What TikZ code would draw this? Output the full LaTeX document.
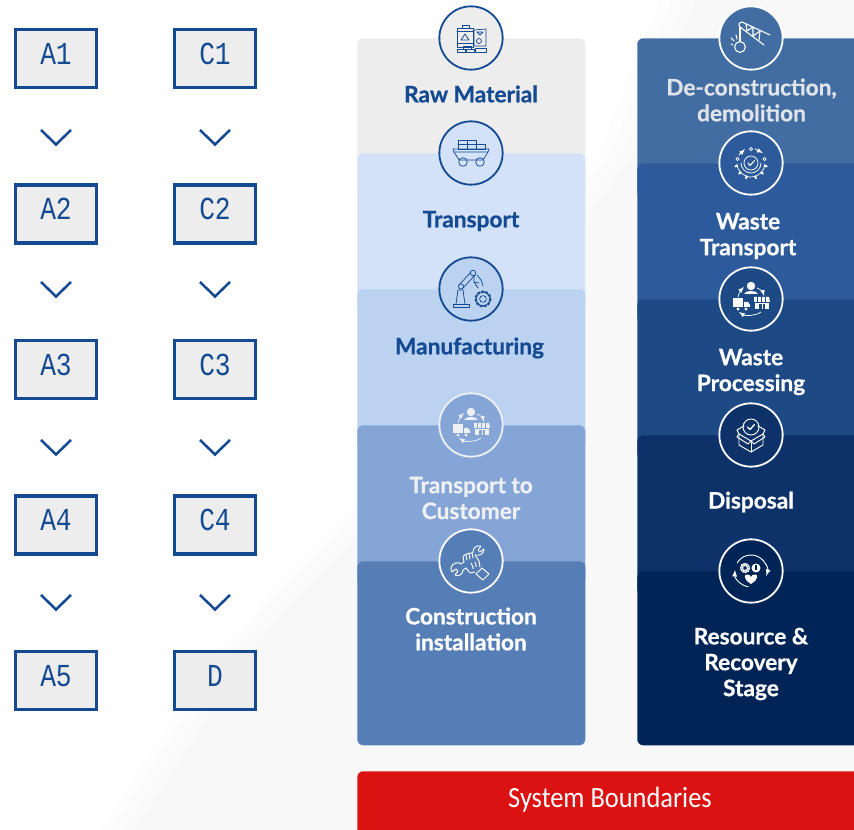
\documentclass[tikz,border=0pt]{standalone}
\usepackage{fontspec}
\setmainfont{Lato}[BoldFeatures={FakeBold=0.7}]
\newfontfamily\boxfont{Liberation Mono}[FakeStretch=0.82]
\newfontfamily\barfont{Carlito}[FakeStretch=0.9]
\definecolor{navy}{HTML}{134A92}
\definecolor{boxfill}{HTML}{EDEDED}
\definecolor{pa}{HTML}{EDEDED}
\definecolor{pb}{HTML}{D3E2F8}
\definecolor{pc}{HTML}{BBD2F0}
\definecolor{pd}{HTML}{84A5D5}
\definecolor{pe}{HTML}{567EB6}
\definecolor{qa}{HTML}{426DA3}
\definecolor{qb}{HTML}{2C5A9B}
\definecolor{qc}{HTML}{1D4A85}
\definecolor{qd}{HTML}{0D3269}
\definecolor{qe}{HTML}{002456}
\definecolor{softw}{HTML}{EEF0F4}
\definecolor{softd}{HTML}{E0E4EA}
\definecolor{redbar}{HTML}{DB1212}
\tikzset{
 x=0.75pt,y=-0.75pt,
 stagebox/.style={draw=navy,line width=2.4pt,fill=boxfill,minimum width=60.7pt,minimum height=43.5pt,inner sep=0pt,text=navy,font=\boxfont\fontsize{24}{24}\selectfont},
 chev/.style={draw=navy,line width=1.9pt,miter limit=2},
 panel/.style={rounded corners=4.5pt,inner sep=0pt,anchor=north west,minimum width=171pt},
 rpanel/.style={rounded corners=4.5pt,inner sep=0pt,anchor=north west,minimum width=190pt},
 lab/.style={font=\bfseries\fontsize{17}{19.4}\selectfont,align=center,inner sep=0pt},
 ring/.style={circle,draw=#1,line width=1.35pt,minimum size=47.5pt,inner sep=0pt},
 ico/.style={line width=0.55pt,line cap=round,line join=round},
}
\newcommand{\chevron}[2]{\draw[chev] ({#1-15},{#2}) -- ({#1},{#2+14.5}) -- ({#1+15},{#2});}
\newcommand{\iconraw}[1]{\begin{scope}[ico,draw=#1]
 \draw (-14,-10) rectangle (2,9); \draw (-14,-7)--(2,-7); \draw(-9,-10)--(-9,-13)--(-2,-13)--(-2,-10);
 \draw (-10,2)--(-6,-4)--(-2,2)--cycle; \draw (-14,5)--(2,5);
 \draw (3,-8)--(15,-9)--(15,8)--(3,8)--cycle; \draw (6,-6)--(12,-6)--(9,-3)--cycle; \draw (8,3) circle (2.5);
 \draw (-14,14) rectangle (-6,11); \draw (-8,11) rectangle (0,8.5); \draw(-5,14) rectangle (3,11); \draw(4,14) rectangle (15,10);
 \end{scope}}
\newcommand{\iconcart}[1]{\begin{scope}[ico,draw=#1]
 \draw (-18,-4)--(18,-4)--(17,-1)--(-17,-1)--cycle; \draw (-17,-1)--(-12,7)--(12,7)--(17,-1);
 \draw (-8,9) circle (4.3); \draw (9,9) circle (4.3);
 \draw (-13,-13) rectangle (-4,-4); \draw (-13,-9)--(5,-9); \draw (-4,-13) rectangle (5,-4); \draw (5,-9) rectangle (14,-4);
 \end{scope}}
\newcommand{\iconrobot}[1]{\begin{scope}[ico,draw=#1]
 \draw (-18,15) rectangle (-2,18); \draw (-15,15)--(-13,1)--(-8,1)--(-6,15);
 \draw (-10,-2.5) circle (2.6); \draw (-12,-4)--(0,-17); \draw (-8,-1)--(4,-14); \draw (2,-16) circle (2.8);
 \draw (3,-13)--(3,-7)--(7,-1); \draw (6,-14)--(10,-9)--(12,-3); \draw (3,-7)--(8,-6);
 \draw[line width=1.2pt,dash pattern=on 1.6pt off 1.6pt] (12,10) circle (7.6); \draw (12,10) circle (6.6); \draw (12,10) circle (3.4);
 \end{scope}}
\newcommand{\icontruck}[2]{\begin{scope}[ico,draw=#1]
 \fill[#1] (-18,-1) rectangle (-8,8); \fill[#1] (-7,3)--(-3,3)--(-1,6)--(-1,8)--(-7,8)--cycle;
 \fill[#1] (-13,10) circle (1.7); \fill[#1] (-5,10) circle (1.7);
 \fill[#1] (3,-2)--(18,-2)--(19,3)--(3,3)--cycle; \fill[#1] (4,4) rectangle (18,10);
 \fill[#2] (8,5) rectangle (14,10); \fill[#1] (10.6,5) rectangle (11.4,10);
 \foreach \u in {6.5,10.5,14.5} {\draw[#2,line width=0.4pt] (\u,-2)--(\u,3);}
 \fill[#1] (0,-13) circle (4.2); \fill[#1] (-7,-5) .. controls (-6,-9) and (6,-9) .. (7,-5) -- cycle;
 \draw[->,>=latex] (-13,-2) .. controls (-12,-6) and (-10,-9) .. (-7,-12);
 \draw[->,>=latex] (6,-11) .. controls (9,-10) and (12,-7) .. (13,-3);
 \draw[->,>=latex] (10,13) .. controls (5,17) and (-6,17) .. (-12,13);
 \end{scope}}
\newcommand{\iconhand}[1]{\begin{scope}[ico,line width=0.7pt,draw=#1]
 \draw (-15,2) .. controls (-20,3) and (-21,8) .. (-19,11) -- (-15,8) -- (-13,10) -- (-16,14) .. controls (-12,16) and (-8,13) .. (-8,9) -- (-5,7);
 \draw (-15,2) .. controls (-13,1) and (-11,2) .. (-10,3) -- (-7,1);
 \draw (4,-6) -- (5,-6) .. controls (10,-5) and (13,-8) .. (13,-12) -- (9,-9) -- (7,-11) -- (10,-15) .. controls (5,-16) and (2,-13) .. (2,-9) -- (1,-8);
 \draw (-7,1)--(-8,-4) .. controls (-7,-7) and (-2,-8) .. (1,-8);
 \draw (-5,-6)--(-4,-1); \draw (-2,-7)--(-1,-2); \draw (1,-8)--(2,-3);
 \draw (4,-6)--(8,0)--(9,6);
 \draw (-5,7)--(-1,12)--(4,11);
 \draw (0,2)--(2,6); \draw (4,1)--(5,4); \fill[#1] (2,7) circle (0.9); \fill[#1] (5,5) circle (0.9);
 \draw (5,13)--(11,7)--(18,13)--(12,19)--cycle;
 \end{scope}}
\newcommand{\iconcrane}[1]{\begin{scope}[ico,line width=0.8pt,draw=#1]
 \draw (-9,-16)--(19,-3); \draw (-11,-11)--(13,7); \draw (-9,-16) .. controls (-13,-15) and (-13,-12) .. (-11,-11);
 \draw (-5,-14)--(-4,-7)--(2,-11)--(2,-2)--(9,-7)--(8,2);
 \draw (-11,-11)--(-11,3);
 \draw (-11,9) circle (5.4);
 \draw (-18,7)--(-20,6); \draw (-17,3)--(-20,0); \draw (-14,1)--(-15,-3);
 \end{scope}}
\newcommand{\icongear}[1]{\begin{scope}[ico,draw=#1]
 \draw (0,0) circle (7); \draw[line width=0.8pt] (-3,0)--(-1,2.5)--(3.5,-2.5);
 \draw (-10,0) arc (180:0:10);
 \draw (-14,1) arc (176:4:14);
 \foreach \a in {12,42,72,108,138,168} {\draw[line width=1.5pt] (\a:14) -- (\a:16);}
 \draw (-13.5,-4) circle (1.7); \draw (13.5,-4) circle (1.7); \draw (0,-14) circle (1.7);
 \draw[->,>=latex] (-12,-8) -- (-6,-14); \draw[->,>=latex] (4,-14) -- (12,-10);
 \end{scope}}
\newcommand{\iconbox}[1]{\begin{scope}[ico,line width=0.7pt,draw=#1]
 \draw (0,-8) circle (8); \draw[line width=1pt] (-3.5,-8)--(-1,-5.5)--(3.5,-10.5);
 \draw (-12,-1)--(0,6)--(12,-1); \draw (-12,-1)--(-12,10)--(0,17)--(12,10)--(12,-1); \draw (0,6)--(0,17);
 \draw (-12,-1)--(-14,-5)--(-7,-9); \draw (12,-1)--(14,-5)--(7,-9);
 \draw (-12,-1)--(-14,2)--(-3,9)--(0,6)--(3,9)--(14,2)--(12,-1);
 \end{scope}}
\newcommand{\iconrec}[2]{\begin{scope}[ico,line width=0.7pt,draw=#1]
 \draw[->,>=latex] (100:16) arc (100:184:16);
 \draw[->,>=latex] (210:16) arc (210:378:16);
 \draw[line width=0.9pt] (-6,-3) circle (2.6); \draw[dash pattern=on 1pt off 1pt,line width=1.2pt] (-6,-3) circle (4.4);
 \fill[#1] (5,-3) circle (4.5); \fill[#2] (4.3,-5.5) rectangle (5.7,-0.5);
 \fill[#1] (0,13) .. controls (-8,8) and (-7,3.5) .. (-4,3.5) .. controls (-2,3.5) and (0,4.5) .. (0,6) .. controls (0,4.5) and (2,3.5) .. (4,3.5) .. controls (7,3.5) and (8,8) .. (0,13) -- cycle;
 \end{scope}}
\begin{document}
\begin{tikzpicture}
\useasboundingbox (0,0) rectangle (854,830);
\clip (0,0) rectangle (854,830);
\fill[white] (0,0) rectangle (854,830);
\foreach \dd/\sh in {0/0.7,12/1.4,24/2.1,36/2.7}
  \fill[black!\sh] ({100+\dd},830)--({215+\dd},650)--({355+\dd},500)--({600+\dd},150)--({660+\dd},0)--(854,0)--(854,830)--cycle;

\foreach \nm/\t/\cx/\cy in {na/A1/56/58.5,nb/A2/56/214,nc/A3/56/369.5,nd/A4/56/525,ne/A5/56/680.5,ma/C1/215/58.5,mb/C2/215/214,mc/C3/215/369.5,md/C4/215/525,me/D/215/680.5}
  \node[stagebox] (\nm) at (\cx,\cy) {\raisebox{-4.15pt}[0pt][0pt]{\t}};
\foreach \cx in {56,215} \foreach \cy in {130,282,440,595} {\chevron{\cx}{\cy}}

% left panels
\node[panel,fill=pa,minimum height=120pt] (p1) at (357,38) {};
\node[panel,fill=pb,minimum height=120pt] (p2) at (357,153) {};
\node[panel,fill=pc,minimum height=120pt] (p3) at (357,289) {};
\node[panel,fill=pd,minimum height=120pt] (p4) at (357,425) {};
\node[panel,fill=pe,minimum height=138pt] (p5) at (357,561) {};
% right panels
\node[rpanel,fill=qa,minimum height=120pt] (q1) at (637,38) {};
\node[rpanel,fill=qb,minimum height=120pt] (q2) at (637,163) {};
\node[rpanel,fill=qc,minimum height=120pt] (q3) at (637,299) {};
\node[rpanel,fill=qd,minimum height=120pt] (q4) at (637,435) {};
\node[rpanel,fill=qe,minimum height=130.5pt] (q5) at (637,571) {};
\node[rpanel,fill=redbar,minimum height=60pt,text=white,minimum width=400pt] (bar) at (357,771) {};
\node[text=white,font=\barfont\fontsize{22}{22}\selectfont,inner sep=0pt] (bartext) at (610,800) {System Boundaries};

% labels
\node[lab,text=navy] (l1) at (471,94) {Raw Material};
\node[lab,text=navy] (l2) at (471,221) {Transport};
\node[lab,text=navy] (l3) at (469.5,348) {Manufacturing};
\node[lab,text=softw] (l4) at (471,498) {Transport to\\Customer};
\node[lab,text=white] (l5) at (471,629) {Construction\\installation};
\node[lab,text=softd] (r1) at (751.5,100) {De-construction,\\demolition};
\node[lab,text=white] (r2) at (748,236) {Waste\\Transport};
\node[lab,text=white] (r3) at (751,372) {Waste\\Processing};
\node[lab,text=white] (r4) at (751,502) {Disposal};
\node[lab,text=white] (r5) at (751,664) {Resource \&\\Recovery\\Stage};

% rings
\node[ring=navy,fill=pa] (c1) at (471,38) {};
\node[ring=navy,fill=pb] (c2) at (471,153) {};
\node[ring=navy,fill=pc] (c3) at (471,289) {};
\node[ring=softw,fill=pd] (c4) at (471,425) {};
\node[ring=white,fill=pe] (c5) at (471,561) {};
\node[ring=white,fill=qa] (d1) at (751,38) {};
\node[ring=white,fill=qb] (d2) at (751,163) {};
\node[ring=white,fill=qc] (d3) at (751,299) {};
\node[ring=white,fill=qd] (d4) at (751,435) {};
\node[ring=white,fill=qe] (d5) at (751,571) {};

\begin{scope}[shift={(471,38)}]\iconraw{navy}\end{scope}
\begin{scope}[shift={(471,153)}]\iconcart{navy}\end{scope}
\begin{scope}[shift={(471,289)}]\iconrobot{navy}\end{scope}
\begin{scope}[shift={(471,425)}]\icontruck{softw}{pd}\end{scope}
\begin{scope}[shift={(471,561)}]\iconhand{white}\end{scope}
\begin{scope}[shift={(751,38)}]\iconcrane{white}\end{scope}
\begin{scope}[shift={(751,163)}]\icongear{white}\end{scope}
\begin{scope}[shift={(751,299)}]\icontruck{white}{qc}\end{scope}
\begin{scope}[shift={(751,435)}]\iconbox{white}\end{scope}
\begin{scope}[shift={(751,571)}]\iconrec{white}{qe}\end{scope}
\end{tikzpicture}
\end{document}
